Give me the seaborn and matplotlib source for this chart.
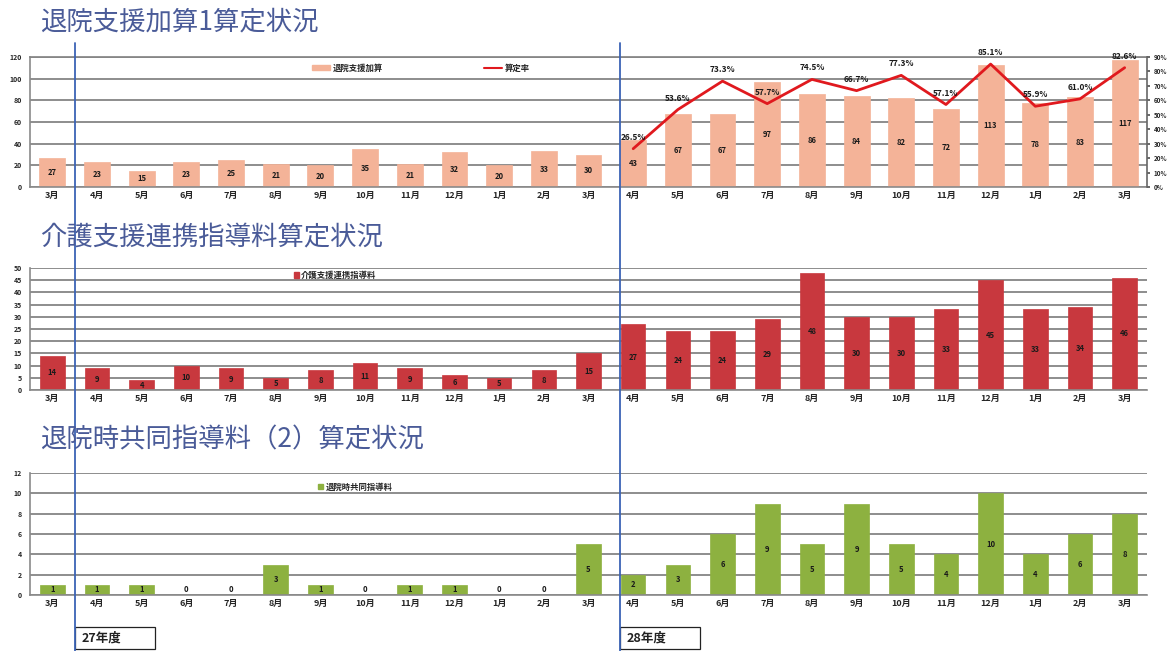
import numpy as np
import pandas as pd
import matplotlib
matplotlib.use("Agg")
import matplotlib.pyplot as plt
import matplotlib.transforms as mtransforms
from matplotlib.patches import Patch, Rectangle
from matplotlib.lines import Line2D
import seaborn as sns

# ---------------- data ----------------
months = ["3月", "4月", "5月", "6月", "7月", "8月", "9月", "10月", "11月", "12月", "1月", "2月", "3月",
          "4月", "5月", "6月", "7月", "8月", "9月", "10月", "11月", "12月", "1月", "2月", "3月"]
taiin_shien = [27, 23, 15, 23, 25, 21, 20, 35, 21, 32, 20, 33, 30,
               43, 67, 67, 97, 86, 84, 82, 72, 113, 78, 83, 117]
rate_start = 13  # 28年度 4月
santei_rate = [26.5, 53.6, 73.3, 57.7, 74.5, 66.7, 77.3, 57.1, 85.1, 55.9, 61.0, 82.6]
kaigo_renkei = [14, 9, 4, 10, 9, 5, 8, 11, 9, 6, 5, 8, 15,
                27, 24, 24, 29, 48, 30, 30, 33, 45, 33, 34, 46]
kyodo_shido = [1, 1, 1, 0, 0, 3, 1, 0, 1, 1, 0, 0, 5,
               2, 3, 6, 9, 5, 9, 5, 4, 10, 4, 6, 8]
titles = ["退院支援加算1算定状況", "介護支援連携指導料算定状況", "退院時共同指導料（2）算定状況"]
legend_labels = ["退院支援加算", "算定率", "介護支援連携指導料", "退院時共同指導料"]
fiscal_labels = ["27年度", "28年度"]
fiscal_starts = [1, 13]

# ---------------- style ----------------
sns.set_theme(style="white")
plt.rcParams["font.family"] = ["Noto Sans CJK JP", "DejaVu Sans"]

C_PEACH = "#F4B398"
C_RED_BAR = "#C8383E"
C_GREEN = "#8DB140"
C_LINE = "#E0191E"
C_GRID = "#858585"
C_TITLE = "#4A5B98"
C_DIV = "#3B63B5"

pos = np.arange(len(months))
df = pd.DataFrame({"pos": pos, "month": months, "taiin": taiin_shien,
                   "kaigo": kaigo_renkei, "kyodo": kyodo_shido})
df_rate = pd.DataFrame({"pos": pos[rate_start:rate_start + len(santei_rate)], "rate": santei_rate})

W, H = 1168, 651
fig = plt.figure(figsize=(W / 100, H / 100), dpi=100)
fig.patch.set_facecolor("white")

L = 30 / W
AW = 1117 / W
ax1 = fig.add_axes([L, 1 - 187 / H, AW, 130 / H])
ax2 = fig.add_axes([L, 1 - 390 / H, AW, 122 / H])
ax3 = fig.add_axes([L, 1 - 595 / H, AW, 122 / H])


def style_axis(ax, ymax, step, color, col, width, zero_lift=None):
    sns.barplot(data=df, x="pos", y=col, ax=ax, color=color, saturation=1,
                width=width, native_scale=True, edgecolor=color, linewidth=0.5)
    ax.set_xlim(-0.5, len(months) - 0.5)
    ax.set_ylim(0, ymax)
    ax.set_yticks(np.arange(0, ymax + 0.01, step))
    ax.set_yticklabels([f"{int(t)}" for t in np.arange(0, ymax + 0.01, step)],
                       fontsize=5, fontweight="bold")
    ax.set_xticks(pos)
    ax.set_xticklabels(months, fontsize=6.5, fontweight="bold")
    ax.tick_params(axis="both", length=0, pad=3)
    ax.tick_params(axis="y", pad=6)
    ax.set_xlabel("")
    ax.set_ylabel("")
    ax.set_axisbelow(True)
    ax.yaxis.grid(True, color=C_GRID, lw=1.3)
    for s in ["top", "right"]:
        ax.spines[s].set_visible(False)
    for s in ["left", "bottom"]:
        ax.spines[s].set_color("#8a8a8a")
        ax.spines[s].set_linewidth(1.2)
    vals = df[col].values
    for x, v in zip(pos, vals):
        y = v / 2 if v > 0 else 0
        if zero_lift is not None:
            y = max(y, zero_lift)
        ax.text(x, y, f"{v}", ha="center", va="center", fontsize=5.5,
                fontweight="bold", color="#1a1a1a")


# chart 1
style_axis(ax1, 120, 20, C_PEACH, "taiin", 0.58)
ax1.spines["top"].set_visible(True)
ax1.spines["top"].set_color(C_GRID)
ax1r = ax1.twinx()
sns.lineplot(data=df_rate, x="pos", y="rate", ax=ax1r, color=C_LINE, lw=2)
ax1r.set_ylim(0, 90)
ax1r.set_yticks(np.arange(0, 91, 10))
ax1r.set_yticklabels([f"{t}%" for t in range(0, 91, 10)], fontsize=4.5, fontweight="bold")
ax1r.tick_params(axis="y", length=2, pad=3, color="#555")
ax1r.set_ylabel("")
for s in ["top", "left", "bottom"]:
    ax1r.spines[s].set_visible(False)
ax1r.spines["right"].set_color("#666")
ax1r.spines["right"].set_linewidth(1.2)
for x, v in zip(df_rate["pos"], df_rate["rate"]):
    ax1r.annotate(f"{v:.1f}%", (x, v), xytext=(0, 5), textcoords="offset points",
                  ha="center", va="bottom", fontsize=6, fontweight="bold", color="#1a1a1a")
ax1.legend(handles=[Patch(facecolor=C_PEACH, edgecolor=C_PEACH), Line2D([], [], color=C_LINE, lw=1.5)],
           labels=legend_labels[:2], loc="center", bbox_to_anchor=(0.35, 0.915), ncol=2,
           frameon=False, prop={"size": 6, "weight": "bold"}, columnspacing=12,
           handlelength=2.2, handleheight=0.5, handletextpad=0.4)

# chart 2
style_axis(ax2, 50, 5, C_RED_BAR, "kaigo", 0.55)
ax2.legend(handles=[Patch(facecolor=C_RED_BAR, edgecolor=C_RED_BAR)], labels=[legend_labels[2]],
           loc="center", bbox_to_anchor=(0.273, 0.94), frameon=False,
           prop={"size": 6, "weight": "bold"}, handlelength=0.6, handleheight=0.6, handletextpad=0.3)

# chart 3
style_axis(ax3, 12, 2, C_GREEN, "kyodo", 0.55, zero_lift=0.5)
ax3.legend(handles=[Patch(facecolor=C_GREEN, edgecolor=C_GREEN)], labels=[legend_labels[3]],
           loc="center", bbox_to_anchor=(0.291, 0.885), frameon=False,
           prop={"size": 6, "weight": "bold"}, handlelength=0.6, handleheight=0.6, handletextpad=0.3)

# titles
for t, ypx in zip(titles, [22, 238, 440]):
    fig.text(40 / W, 1 - ypx / H, t, fontsize=19, color=C_TITLE, va="center", ha="left")

# fiscal-year dividers and boxes
blend = mtransforms.blended_transform_factory(ax1.transData, fig.transFigure)
for start, lab, shift in zip(fiscal_starts, fiscal_labels, [0.0, 0.2]):
    xd = start - 0.5 + shift
    fig.add_artist(Line2D([xd, xd], [1 - 43 / H, 0], transform=blend, color=C_DIV, lw=1.3))
    fig.add_artist(Rectangle((xd, 1 - 649 / H), 1.8, 22 / H, transform=blend,
                             facecolor="white", edgecolor="#222", lw=0.9))
    fig.text(xd + 0.15, 1 - 638 / H, lab, transform=blend, fontsize=9, fontweight="bold",
             va="center", ha="left", color="#222")

fig.savefig("out.png", dpi=100, facecolor="white")
